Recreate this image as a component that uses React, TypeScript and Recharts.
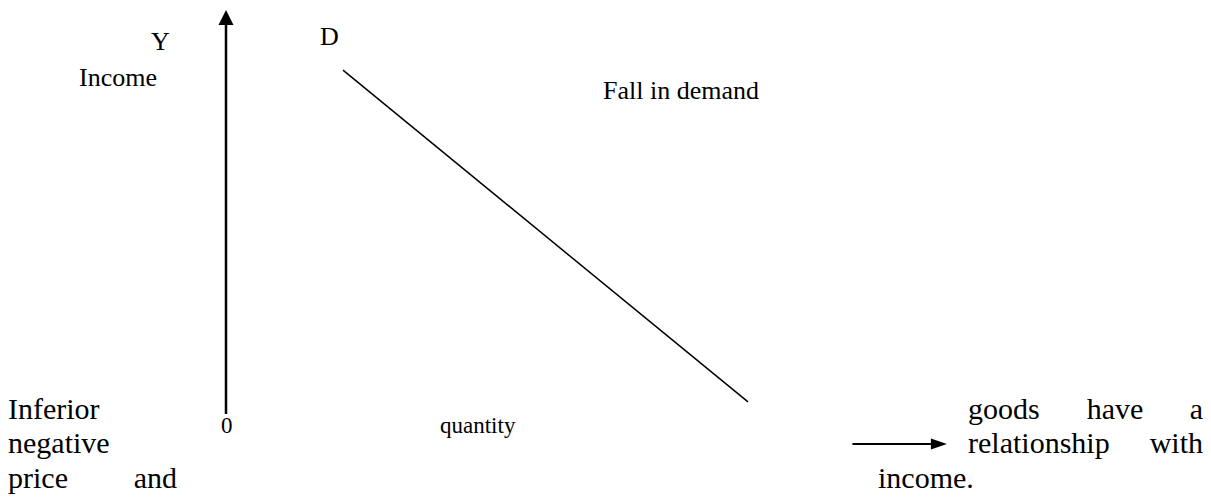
import React from 'react';
import { ComposedChart, Line, XAxis, YAxis, ReferenceLine } from 'recharts';

// ---- data ----
const demandQuantity = [1.3, 5.8];
const demandIncome = [8.51, 0.3];
const demandData = demandQuantity.map((q, i) => ({ q, income: demandIncome[i] }));

const axisStart = { x: 0, y: 0 };
const axisEnd = { x: 0, y: 10 };
const arrowStart = { x: 6.96, y: -0.74 };
const arrowEnd = { x: 8.01, y: -0.74 };

const W = 1211;
const H = 498;
const FONT = 'Liberation Serif, Times New Roman, serif';

const VerticalArrow = (p: any) => {
  const { x1, y1, x2, y2 } = p;
  const head = 15;
  const half = 7.5;
  return (
    <g>
      <line x1={x1} y1={y1} x2={x2} y2={y2 + head} stroke="#000" strokeWidth={2.5} />
      <polygon points={`${x2},${y2} ${x2 - half},${y2 + head} ${x2 + half},${y2 + head}`} fill="#000" />
    </g>
  );
};

const HorizontalArrow = (p: any) => {
  const { x1, y1, x2, y2 } = p;
  const head = 16;
  const half = 5.5;
  return (
    <g>
      <line x1={x1} y1={y1} x2={x2 - head} y2={y2} stroke="#000" strokeWidth={2} />
      <polygon points={`${x2},${y2} ${x2 - head},${y2 - half} ${x2 - head},${y2 + half}`} fill="#000" />
    </g>
  );
};

const T = (props: any) => (
  <text {...props} style={{ fontFamily: FONT, fontSize: props.fontSize }} fill="#000">
    {props.children}
  </text>
);

export default function App() {
  return (
    <div style={{ position: 'absolute', left: 0, top: 0, width: W, height: H, background: '#fff' }}>
      <ComposedChart
        width={W}
        height={H}
        data={demandData}
        margin={{ top: 10, right: 85, bottom: 84, left: 226 }}
      >
        <XAxis dataKey="q" type="number" domain={[0, 10]} hide allowDataOverflow />
        <YAxis type="number" domain={[0, 10]} hide allowDataOverflow />
        <ReferenceLine segment={[axisStart, axisEnd]} ifOverflow="visible" shape={VerticalArrow} />
        <ReferenceLine segment={[arrowStart, arrowEnd]} ifOverflow="visible" shape={HorizontalArrow} />
        <Line
          dataKey="income"
          type="linear"
          stroke="#000"
          strokeWidth={1.5}
          dot={false}
          activeDot={false}
          isAnimationActive={false}
        />
      </ComposedChart>
      <svg
        width={W}
        height={H}
        style={{ position: 'absolute', left: 0, top: 0, pointerEvents: 'none' }}
      >
        <T x={151} y={50} fontSize={26}>Y</T>
        <T x={79} y={86} fontSize={26}>Income</T>
        <T x={320} y={45} fontSize={26}>D</T>
        <T x={603} y={99} fontSize={26}>Fall in demand</T>
        <T x={221} y={433} fontSize={23}>0</T>
        <T x={440} y={433} fontSize={23}>quantity</T>

        <T x={8} y={419} fontSize={30}>Inferior</T>
        <T x={8} y={453} fontSize={30}>negative</T>
        <T x={8} y={488} fontSize={30}>price</T>
        <T x={177} y={488} fontSize={30} textAnchor="end">and</T>

        <T x={968} y={419} fontSize={30}>goods</T>
        <T x={1115} y={419} fontSize={30} textAnchor="middle">have</T>
        <T x={1203} y={419} fontSize={30} textAnchor="end">a</T>
        <T x={968} y={453} fontSize={30}>relationship</T>
        <T x={1203} y={453} fontSize={30} textAnchor="end">with</T>
        <T x={878} y={488} fontSize={30}>income.</T>
      </svg>
    </div>
  );
}
